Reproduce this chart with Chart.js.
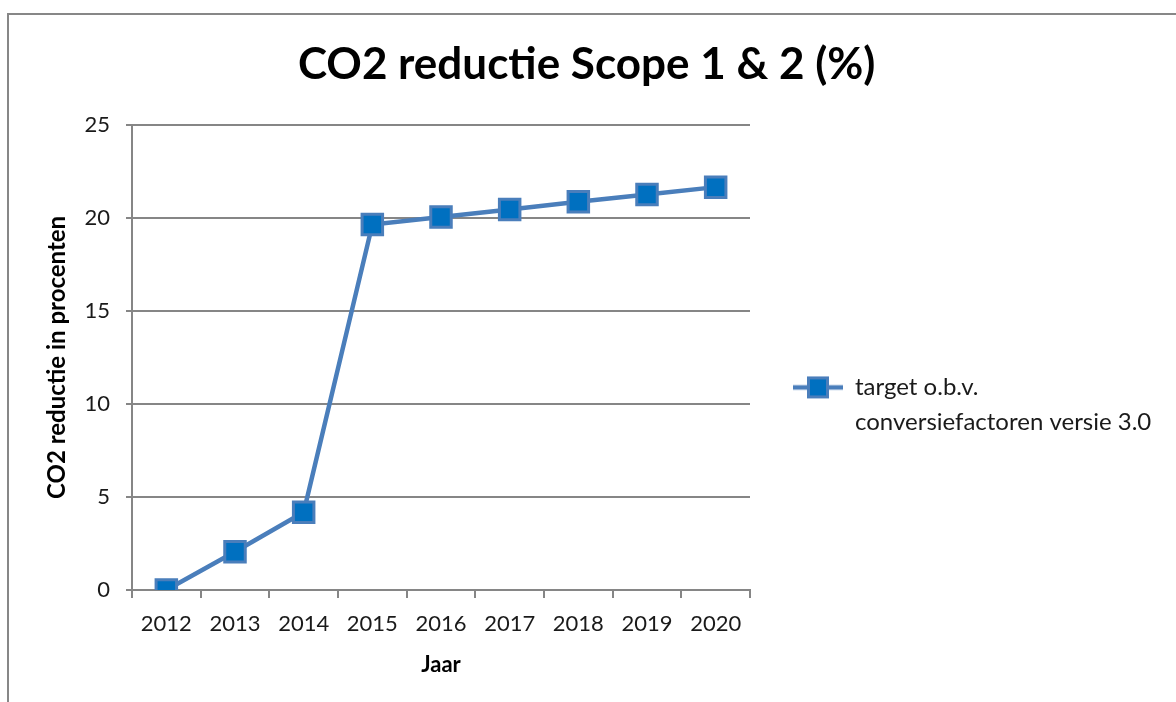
<!DOCTYPE html>
<html>
<head>
<meta charset="utf-8">
<script src="https://cdn.jsdelivr.net/npm/chart.js@4.4.1/dist/chart.umd.min.js"></script>
<style>
  html, body { margin: 0; padding: 0; background: #fff; overflow: hidden; }
  #frame { position: absolute; left: 7px; top: 13px; width: 1200px; height: 720px; border: 2px solid #878787; }
  #chart { position: absolute; left: 0; top: 0; }
</style>
</head>
<body>
<div id="frame"></div>
<canvas id="chart" width="1176" height="702"></canvas>
<script>
const chartTitle = 'CO2 reductie Scope 1 & 2 (%)';
const xTitle = 'Jaar';
const yTitle = 'CO2 reductie in procenten';
const years = ['2012', '2013', '2014', '2015', '2016', '2017', '2018', '2019', '2020'];
const target = [0, 2.06, 4.18, 19.64, 20.05, 20.45, 20.86, 21.25, 21.65];
const seriesName = 'target o.b.v. conversiefactoren versie 3.0';
const legendLines = ['target o.b.v.', 'conversiefactoren versie 3.0'];
const yMin = 0, yMax = 25, yStep = 5;

const lineBlue = '#4a7ebb';
const markBlue = '#0070c0';
const gridGrey = '#868686';
const textCol = '#1a1a1a';
const font = 'Lato';
const legendSize = 24;
const legendPad = 43;
const symW = 50;

// legend symbol: line with square marker
const sym = document.createElement('canvas');
sym.width = symW; sym.height = 26;
(function () {
    const c = sym.getContext('2d');
    c.strokeStyle = lineBlue;
    c.lineWidth = 4.5;
    c.beginPath(); c.moveTo(0, 13); c.lineTo(symW, 13); c.stroke();
    c.fillStyle = markBlue;
    c.lineWidth = 3;
    c.fillRect(15.5, 3.5, 19, 19);
    c.strokeRect(15.5, 3.5, 19, 19);
})();

// keep the plot area's right edge at the same place as the reference
const mctx = document.createElement('canvas').getContext('2d');
mctx.font = legendSize + 'px ' + font;
const longest = legendLines.reduce((a, b) => a.length > b.length ? a : b);
const legendW = legendPad + symW + legendSize / 2 + mctx.measureText(longest).width + 10;
const padRight = Math.max(0, 426 - legendW);

new Chart(document.getElementById('chart'), {
    type: 'line',
    data: {
        labels: years,
        datasets: [{
            label: seriesName,
            data: target,
            borderColor: lineBlue,
            borderWidth: 4.5,
            pointStyle: 'rect',
            pointRadius: 14.5,
            pointHoverRadius: 14.5,
            pointBackgroundColor: markBlue,
            pointBorderColor: lineBlue,
            pointBorderWidth: 3,
            tension: 0,
            fill: false
        }]
    },
    options: {
        responsive: false,
        animation: false,
        layout: { padding: { left: 12, right: padRight, top: 0, bottom: 0 } },
        plugins: {
            tooltip: { enabled: false },
            title: {
                display: true,
                text: chartTitle,
                color: '#000',
                font: { family: font, size: 44, weight: 'bold' },
                padding: { top: 38, bottom: 34 }
            },
            legend: {
                position: 'right',
                align: 'start',
                maxWidth: 1000,
                title: { display: true, text: '', padding: { top: 318, bottom: 0 } },
                labels: {
                    color: textCol,
                    font: { family: font, size: legendSize, lineHeight: 1.45 },
                    padding: legendPad,
                    usePointStyle: true,
                    pointStyle: sym,
                    pointStyleWidth: symW,
                    boxHeight: 22,
                    generateLabels: (chart) => Chart.defaults.plugins.legend.labels.generateLabels(chart)
                        .map(l => Object.assign(l, { text: legendLines, pointStyle: sym }))
                }
            }
        },
        scales: {
            x: {
                offset: true,
                grid: { offset: true, drawOnChartArea: false, drawTicks: true, tickLength: 8, color: gridGrey, lineWidth: 2 },
                border: { color: gridGrey, width: 2 },
                ticks: { color: textCol, font: { family: font, size: 22 }, padding: 13, maxRotation: 0 },
                title: { display: true, text: xTitle, color: '#000', font: { family: font, size: 22, weight: 'bold' }, padding: { top: 0, bottom: 24 } },
                afterFit: (s) => { s.height = 112; }
            },
            y: {
                min: yMin, max: yMax,
                grid: { color: gridGrey, lineWidth: 2, tickLength: 6 },
                border: { color: gridGrey, width: 2 },
                ticks: { stepSize: yStep, color: textCol, font: { family: font, size: 22 }, padding: 16 },
                title: { display: true, text: yTitle, color: '#000', font: { family: font, size: 24, weight: 'bold' }, padding: { top: 31, bottom: 0 } },
                afterFit: (s) => { s.width = 120; }
            }
        }
    }
});
</script>
</body>
</html>
